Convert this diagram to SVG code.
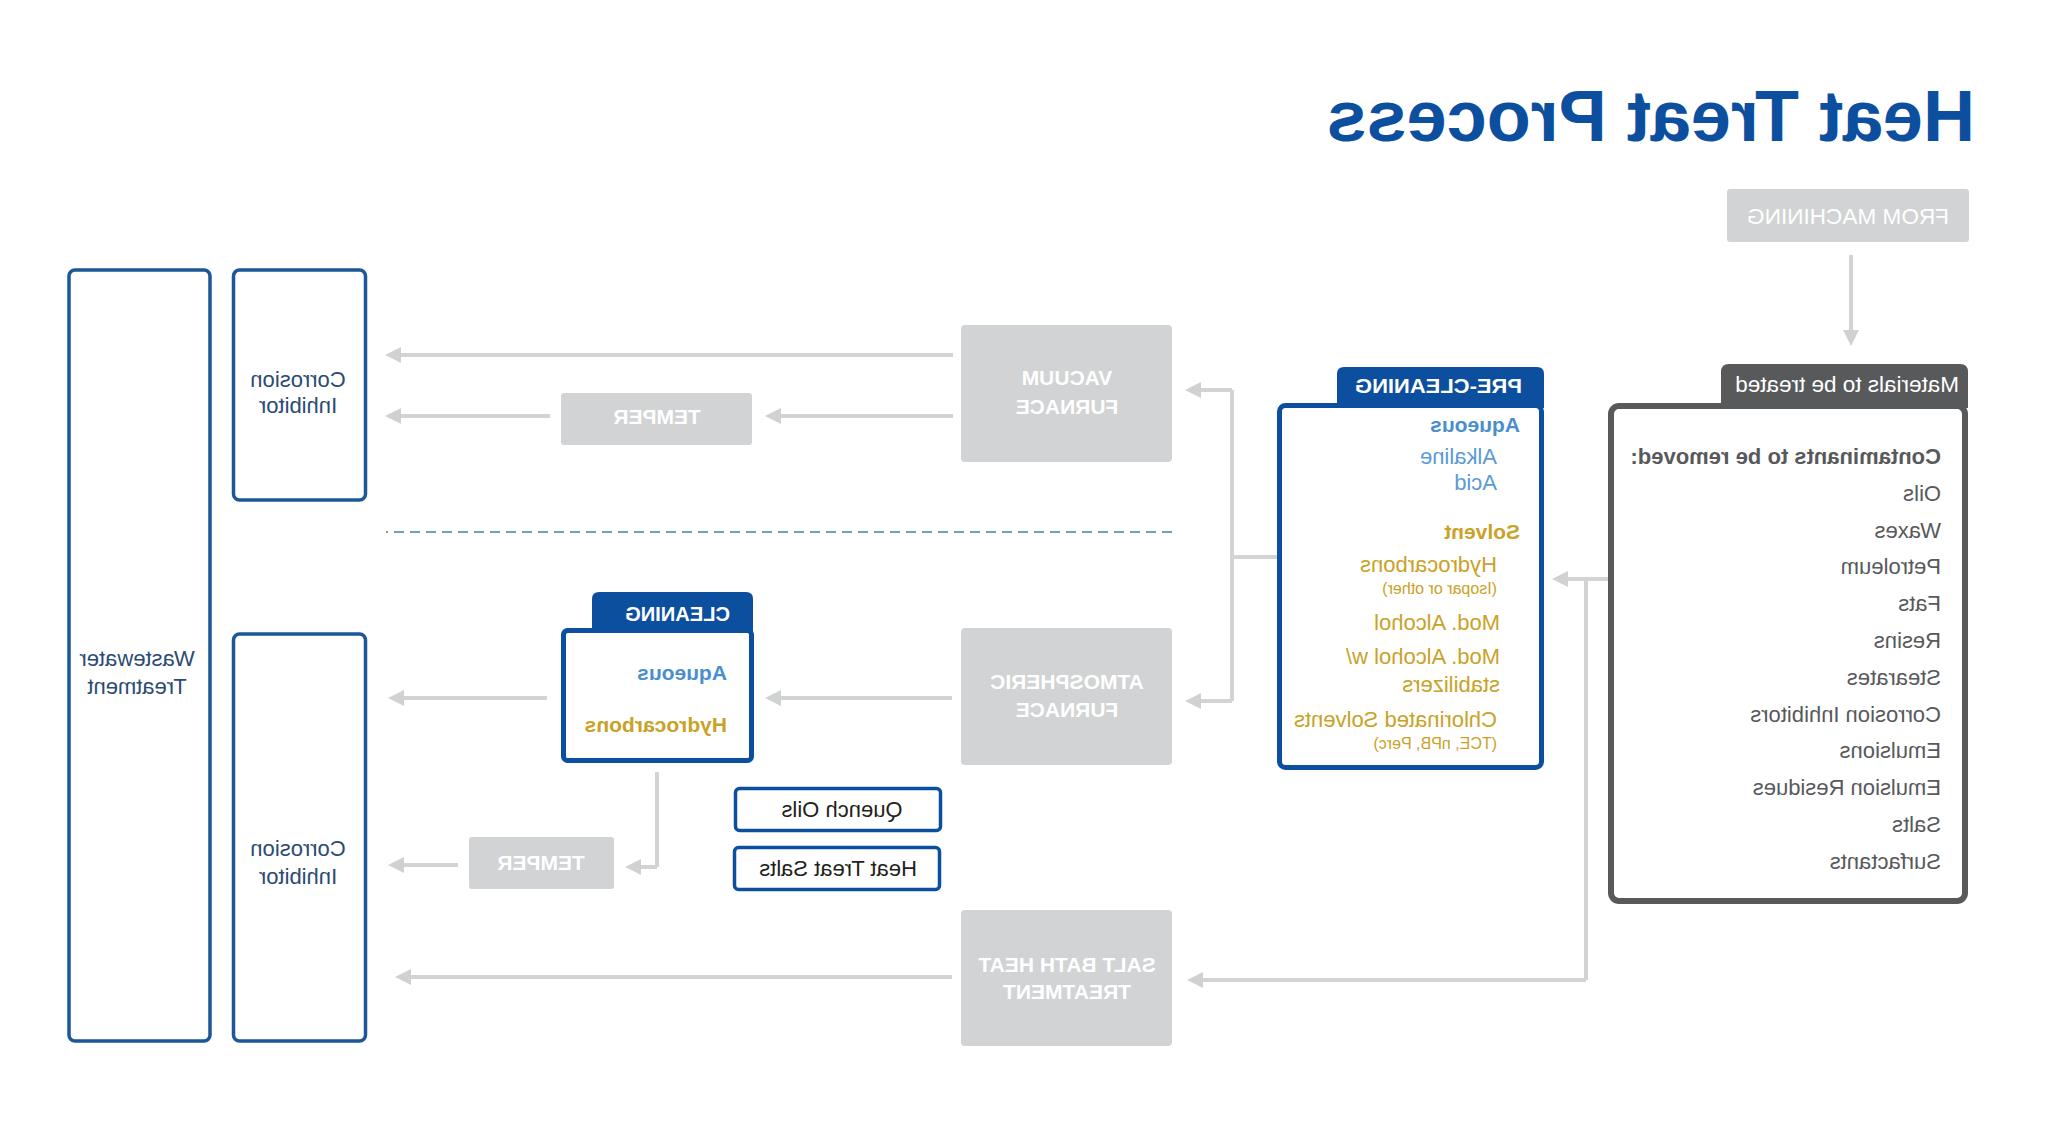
<svg xmlns="http://www.w3.org/2000/svg" width="2048" height="1133" viewBox="0 0 2048 1133">
<style>
text{font-family:"Liberation Sans",Arial,sans-serif}
.gbox{fill:#d1d3d4}
.glab{fill:#ffffff;font-size:21px;font-weight:bold;text-anchor:middle}
.bbox{fill:#ffffff;stroke:#1d5797;stroke-width:3.5}
.blab{fill:#2b4b73;font-size:22px;text-anchor:middle}
.pbox{fill:#ffffff;stroke:#0c4f9e;stroke-width:5}
.ptab{fill:#0c4f9e}
.tabt{fill:#ffffff;font-size:21px;font-weight:bold}
.aq{fill:#4a8fcb;font-size:21px;font-weight:bold}
.aqr{fill:#5b9bd5;font-size:22px}
.sv{fill:#c9a227;font-size:21px;font-weight:bold}
.svr{fill:#c9a227;font-size:22px}
.svs{fill:#c9a227;font-size:16px}
.mat{fill:#58595b;font-size:22px}
.sbox{fill:#ffffff;stroke:#0c4f9e;stroke-width:3.5}
.slab{fill:#231f20;font-size:22px;text-anchor:middle}
.con{fill:none;stroke:#d1d3d4;stroke-width:4}
.arr{marker-end:url(#ah)}
</style>
<defs>
<marker id="ah" markerUnits="userSpaceOnUse" markerWidth="18" markerHeight="18" refX="4" refY="9" orient="auto">
<path d="M0,1 L16,9 L0,17 Z" fill="#cfd1d2"/>
</marker>
</defs>
<g transform="matrix(-1 0 0 1 2048 0)">
<g id="title"><text x="73" y="141" style="font-size:72px;font-weight:bold;fill:#0d4f9f">Heat Treat Process</text></g>

<g id="connectors">
<path class="con arr" d="M197,255 V334"/>
<path class="con arr" d="M440,579 H484"/>
<path class="con" d="M462,579 V980"/>
<path class="con arr" d="M462,980 H849"/>
<path class="con" d="M771,557 H816"/>
<path class="con" d="M816,390 V701"/>
<path class="con arr" d="M816,390 H851"/>
<path class="con arr" d="M816,701 H851"/>
<path class="con arr" d="M1095,355 H1651"/>
<path class="con arr" d="M1095,416 H1271"/>
<path class="con arr" d="M1498,416 H1651"/>
<path class="con arr" d="M1096,698 H1271"/>
<path class="con arr" d="M1501,698 H1648"/>
<path class="con" d="M1391,772 V867"/>
<path class="con arr" d="M1391,867 H1411"/>
<path class="con arr" d="M1590,865 H1648"/>
<path class="con arr" d="M1096,977 H1641"/>
<path d="M876,532 H1662" fill="none" stroke="#4a7fa8" stroke-width="1.5" stroke-dasharray="10,6"/>
</g>

<g id="from-machining">
<rect class="gbox" x="79" y="189" width="242" height="53" rx="3"/>
<text x="200" y="224" style="fill:#ffffff;font-size:22px;text-anchor:middle" textLength="202" lengthAdjust="spacingAndGlyphs">FROM MACHINING</text>
</g>

<g id="materials">
<path d="M80,408 V372 Q80,364 88,364 H319 Q327,364 327,372 V408 Z" fill="#58595b"/>
<rect x="83" y="406" width="354" height="495" rx="8" fill="#ffffff" stroke="#58595b" stroke-width="6"/>
<text x="89" y="392" style="fill:#ffffff;font-size:22.5px">Materials to be treated</text>
<text class="mat" x="107" y="464" style="font-weight:bold">Contaminants to be removed:</text>
<text class="mat" x="107" y="501">Oils</text>
<text class="mat" x="107" y="538">Waxes</text>
<text class="mat" x="107" y="574">Petroleum</text>
<text class="mat" x="107" y="611">Fats</text>
<text class="mat" x="107" y="648">Resins</text>
<text class="mat" x="107" y="685">Stearates</text>
<text class="mat" x="107" y="722">Corrosion Inhibitors</text>
<text class="mat" x="107" y="758">Emulsions</text>
<text class="mat" x="107" y="795">Emulsion Residues</text>
<text class="mat" x="107" y="832">Salts</text>
<text class="mat" x="107" y="869">Surfactants</text>
</g>

<g id="pre-cleaning">
<path class="ptab" d="M504,408 V374 Q504,367 511,367 H704 Q711,367 711,374 V408 Z"/>
<rect class="pbox" x="506.5" y="405.5" width="262" height="362" rx="6"/>
<text class="tabt" x="526" y="393" textLength="167" lengthAdjust="spacingAndGlyphs">PRE-CLEANING</text>
<text class="aq" x="528" y="432">Aqueous</text>
<text class="aqr" x="551" y="464">Alkaline</text>
<text class="aqr" x="551" y="490">Acid</text>
<text class="sv" x="528" y="539">Solvent</text>
<text class="svr" x="551" y="572">Hydrocarbons</text>
<text class="svs" x="551" y="594">(Isopar or other)</text>
<text class="svr" x="548" y="630">Mod. Alcohol</text>
<text class="svr" x="548" y="664">Mod. Alcohol w/</text>
<text class="svr" x="548" y="692">stabilizers</text>
<text class="svr" x="551" y="727">Chlorinated Solvents</text>
<text class="svs" x="551" y="749">(TCE, nPB, Perc)</text>
</g>

<g id="vacuum-furnace">
<rect class="gbox" x="876" y="325" width="211" height="137" rx="4"/>
<text class="glab" x="981" y="385">VACUUM</text>
<text class="glab" x="981" y="414">FURNACE</text>
</g>

<g id="atmospheric-furnace">
<rect class="gbox" x="876" y="628" width="211" height="137" rx="4"/>
<text class="glab" x="981" y="689">ATMOSPHERIC</text>
<text class="glab" x="981" y="717">FURNACE</text>
</g>

<g id="salt-bath">
<rect class="gbox" x="876" y="910" width="211" height="136" rx="4"/>
<text class="glab" x="981" y="972">SALT BATH HEAT</text>
<text class="glab" x="981" y="999">TREATMENT</text>
</g>

<g id="temper-top">
<rect class="gbox" x="1296" y="393" width="191" height="52" rx="3"/>
<text class="glab" x="1391" y="424">TEMPER</text>
</g>

<g id="cleaning">
<path class="ptab" d="M1295,633 V599 Q1295,592 1302,592 H1449 Q1456,592 1456,599 V633 Z"/>
<rect class="pbox" x="1296.5" y="630.5" width="188" height="130" rx="4"/>
<text class="tabt" x="1318" y="621" textLength="105" lengthAdjust="spacingAndGlyphs">CLEANING</text>
<text class="aq" x="1321" y="680">Aqueous</text>
<text class="sv" x="1321" y="732">Hydrocarbons</text>
</g>

<g id="quench-oils">
<rect class="sbox" x="1107.5" y="788.5" width="205" height="42" rx="4"/>
<text class="slab" x="1206" y="817">Quench Oils</text>
</g>

<g id="heat-treat-salts">
<rect class="sbox" x="1108.5" y="847.5" width="205" height="42" rx="4"/>
<text class="slab" x="1210" y="876">Heat Treat Salts</text>
</g>

<g id="temper-bottom">
<rect class="gbox" x="1434" y="837" width="145" height="52" rx="3"/>
<text class="glab" x="1507" y="870">TEMPER</text>
</g>

<g id="corrosion-top">
<rect class="bbox" x="1682.5" y="270" width="132" height="230" rx="6"/>
<text class="blab" x="1750" y="387">Corrosion</text>
<text class="blab" x="1750" y="413">Inhibitor</text>
</g>

<g id="corrosion-bottom">
<rect class="bbox" x="1682.5" y="634" width="132" height="407" rx="6"/>
<text class="blab" x="1750" y="856">Corrosion</text>
<text class="blab" x="1750" y="884">Inhibitor</text>
</g>

<g id="wastewater">
<rect class="bbox" x="1838" y="270" width="141" height="771" rx="6"/>
<text class="blab" x="1911" y="666">Wastewater</text>
<text class="blab" x="1911" y="694">Treatment</text>
</g>
</g>
</svg>
